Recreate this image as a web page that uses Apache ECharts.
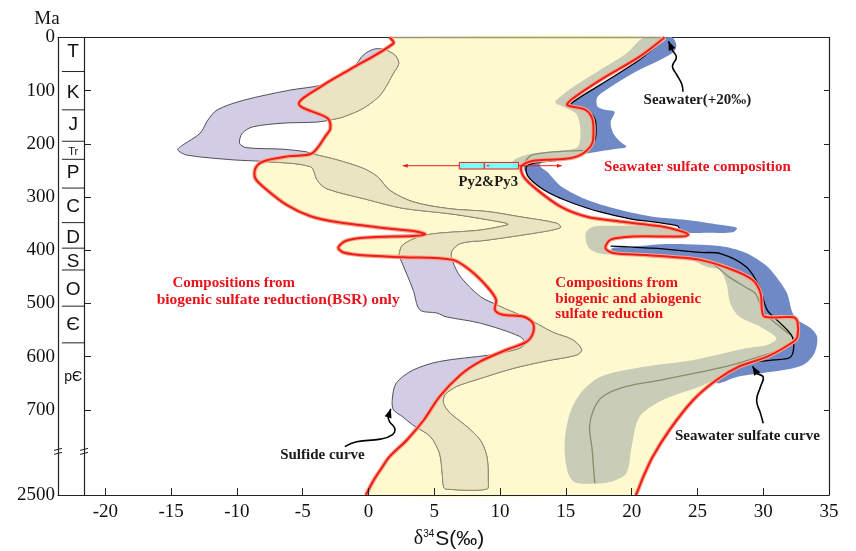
<!DOCTYPE html>
<html>
<head>
<meta charset="utf-8">
<script src="https://cdn.jsdelivr.net/npm/echarts@6/dist/echarts.min.js"></script>
<style>
  html, body { margin: 0; padding: 0; background: #fff; }
  #chart { width: 856px; height: 551px; }
</style>
</head>
<body>
<div id="chart"></div>
<script>
// δ34S (‰) against age (Ma). Below 700 Ma the age axis is broken:
// its last unit (860) stands for 2500 Ma.

// ---- axes ----
const xTickValues = [-20, -15, -10, -5, 0, 5, 10, 15, 20, 25, 30, 35];
const ageTickValues = [0, 100, 200, 300, 400, 500, 600, 700, 860];
const ageTickLabels = ['0', '100', '200', '300', '400', '500', '600', '700', '2500'];
const ageBreak = 778;

// ---- geological periods ----
const periods = ['T', 'K', 'J', 'Tr', 'P', 'C', 'D', 'S', 'O', 'Є', 'pЄ'];
const periodLabelAges = [27, 103, 164, 215, 255, 318, 377, 421, 475, 540, 638];
const periodBounds = [64, 136, 195, 229, 283, 348, 396, 437, 505, 574];

// ---- envelope of possible sulfide compositions (red outline) ----
const envelopeLeft = [[1.6,0],[1.9,11],[-1.4,60],[-3.4,89],[-5.3,125],[-3.1,152],[-2.9,171],[-3.2,183],[-4.3,218],[-6.0,223],[-8.0,233],[-8.6,246],[-8.6,265],[-7.7,287],[-6.2,315],[-4.4,336],[-2.4,347],[1.1,358],[3.7,365],[4.3,370],[3.4,373],[-0.1,376],[-1.7,382],[-2.3,395],[-1.9,404],[-0.1,410],[2.6,413],[6.4,418],[7.7,437],[9.0,468],[9.7,493],[9.6,512],[10.2,521],[11.8,525],[12.5,537],[12.5,556],[12.0,572],[10.5,587],[8.5,609],[7.0,634],[5.4,675],[4.2,719],[2.9,757],[1.6,788],[0.9,813],[0.4,832],[-0.2,860]];
const envelopeRight = [[22.5,0],[20.6,36],[17.6,80],[15.4,117],[15.1,127],[16.5,136],[17.0,152],[17.1,174],[17.0,199],[16.3,218],[15.3,227],[13.5,230],[12.3,233],[11.6,243],[11.8,262],[12.8,286],[14.6,318],[16.6,337],[19.1,346],[22.2,355],[23.9,365],[24.3,371],[23.7,374],[20.1,374],[18.4,380],[18.0,396],[18.6,405],[21.1,409],[25.2,418],[27.7,437],[29.2,456],[29.8,481],[29.9,512],[30.1,525],[32.3,526],[32.6,534],[32.6,562],[32.3,572],[30.3,600],[28.2,618],[26.5,643],[24.7,681],[22.9,737],[21.6,788],[20.9,825],[20.4,856],[20.3,860]];

// ---- sulfide curve band ----
const sulfideBand = [[0.4,22],[1.1,22],[2.0,33],[2.3,49],[1.9,67],[0.9,108],[-0.4,133],[-1.9,149],[-2.9,155],[-3.9,159],[-6.5,161],[-8.8,168],[-9.6,180],[-9.8,199],[-9.3,207],[-6.5,210],[-4.7,215],[-4.2,219],[-2.4,230],[-0.4,246],[0.7,262],[1.6,287],[3.4,309],[6.2,322],[9.0,327],[11.5,337],[14.3,349],[14.6,357],[13.3,365],[9.0,381],[7.0,387],[6.3,403],[6.4,421],[7.0,450],[8.5,487],[9.8,503],[10.4,510],[12.0,527],[14.0,554],[15.5,568],[16.2,587],[15.8,597],[13.5,608],[11.0,622],[8.5,641],[6.7,656],[5.8,672],[5.7,688],[6.2,706],[7.5,732],[8.5,757],[9.0,788],[9.1,832],[9.0,849],[5.9,849],[5.7,844],[5.6,819],[5.4,782],[4.7,750],[3.4,729],[2.6,713],[1.9,700],[1.8,682],[2.1,650],[3.4,625],[5.4,609],[9.2,597],[10.5,591],[11.5,584],[11.9,575],[11.5,562],[8.5,537],[5.9,525],[5.2,518],[3.9,512],[3.4,475],[2.4,415],[2.3,412],[2.6,390],[4.4,371],[8.5,362],[10.6,352],[10.5,349],[6.4,332],[2.6,321],[-0.2,304],[-3.2,284],[-3.9,268],[-4.4,243],[-8.0,233],[-10.3,230],[-13.8,221],[-14.5,211],[-14.1,202],[-12.8,180],[-12.2,155],[-11.5,136],[-9.5,118],[-6.0,99],[-3.5,89],[-2.2,72],[-1.0,52],[-0.4,33]];

// ---- seawater sulfate band (grey) ----
const seawaterBandUpper = [[21.0,0],[25.2,0],[19.1,99],[17.6,155],[18.0,211],[14.6,240],[12.3,253],[11.1,245],[10.9,236],[11.2,228],[12.3,219],[14.6,213],[15.9,206],[16.1,174],[15.8,144],[14.9,131],[14.2,123],[14.3,117],[15.6,92],[17.6,61],[19.6,30]];
const seawaterBandLower = [[16.7,394],[16.5,369],[17.0,356],[18.8,354],[25.2,354],[26.7,381],[30.5,437],[32.8,512],[33.9,569],[32.0,610],[28.6,625],[28.0,625],[25.2,656],[22.4,681],[20.6,713],[20.0,769],[19.6,819],[18.4,835],[16.8,839],[15.6,835],[15.1,813],[14.9,763],[15.3,707],[16.1,669],[17.6,638],[20.9,619],[24.7,606],[28.7,584],[30.3,578],[31.0,565],[29.8,544],[28.2,525],[27.5,500],[27.2,462],[26.7,437],[25.7,431],[24.2,415],[21.6,412],[19.1,409],[17.4,405]];
const seawaterMidUpper = [[16.3,212],[14.0,215],[12.4,221],[12.0,230],[11.8,238]];
const seawaterMidLower = [[25.2,414],[26.4,430],[27.4,450],[28.7,470],[29.4,481],[30.1,518],[31.3,544],[32.2,562],[32.3,570],[31.8,582],[29.7,600],[28.0,613],[26.0,625],[22.2,644],[19.6,656],[17.8,675],[17.1,700],[16.8,732],[17.0,775],[17.1,807],[17.2,838]];

// ---- seawater +20‰ band (blue) and its centre curve ----
const seawaterPlusUpper = [[22.6,0],[23.1,0],[23.4,14],[23.2,27],[22.2,42],[20.1,67],[18.4,93],[17.4,112],[17.4,129],[18.0,136],[18.7,140],[18.4,159],[18.6,180],[19.1,195],[19.6,206],[18.6,210],[17.3,215],[16.3,219],[14.6,225],[13.4,232],[13.0,240],[13.6,253],[14.6,279],[16.6,305],[19.1,324],[21.6,337],[24.2,343],[26.7,352],[28.0,358],[27.7,366],[25.7,367],[24.3,367],[23.6,360],[23.5,354],[21.8,347],[19.9,341],[17.6,328],[15.7,313],[14.2,298],[13.0,281],[12.1,260],[11.8,242],[12.3,232],[13.4,227],[15.3,219],[16.6,208],[17.2,193],[17.3,174],[17.2,153],[16.6,136],[15.6,130],[15.4,124],[17.6,89],[20.6,42],[22.5,1]];
const seawaterPlusLower = [[18.5,396],[20.6,392],[22.7,388],[26.7,392],[28.7,405],[30.2,428],[31.0,450],[31.8,480],[32.2,516],[32.6,531],[33.6,546],[34.1,563],[33.9,593],[33.0,616],[30.5,629],[28.0,638],[26.5,650],[26.3,635],[28.2,610],[30.1,591],[31.7,578],[31.9,550],[30.9,527],[29.6,512],[29.1,475],[28.2,446],[25.9,426],[22.2,415],[19.5,411],[18.5,403]];
const seawaterCurveUpper = [[22.5,1],[20.6,42],[17.6,89],[15.4,124],[15.6,130],[16.6,136],[17.2,153],[17.3,174],[17.2,193],[16.6,212],[15.6,225],[14.0,232],[12.6,236],[12.0,243],[12.1,260],[13.0,281],[14.2,298],[15.7,313],[17.6,328],[19.9,341],[21.8,347],[23.5,354],[23.6,358]];
const seawaterCurveLower = [[18.4,392],[21.6,396],[25.2,404],[26.7,406],[28.7,431],[29.7,468],[30.3,512],[31.3,537],[32.2,562],[32.3,587],[32.0,602],[30.8,606],[29.2,610]];

// ---- Py2 & Py3 pyrite range: min, q1, median, q3, max ----
const pyStats = [2.6, 6.9, 8.8, 11.4, 14.7];
const pyAge = 241;

// ---- palette ----
const YELLOW = '#FFF9CF', PURPLE = '#D2CCE5', TAN = '#EAE4C3', GREY = '#C9CDB7', BLUE = '#6F88C6';
const RED = '#EE1D1A', RED_HALO = '#F7A78C', OLIVE = '#8A8A6C', RED_TEXT = '#E8141C';
const SMOOTH = 0.3;

const X_MIN = -23.6, X_MAX = 35, AGE_MAX = 860;
const COLUMN_EDGE = -21.62;   // right-hand line of the period column

function px(api, arr) { return arr.map(p => api.coord(p)); }
function envelopeClosed() { return envelopeLeft.concat(envelopeRight.slice().reverse()); }

function layer(z, build) {
  return {
    type: 'custom', coordinateSystem: 'cartesian2d', xAxisIndex: 0, yAxisIndex: 0,
    data: [[0, 0]], z: z, silent: true, animation: false,
    renderItem: (params, api) => build(api)
  };
}

function arrowHead(tip, from, len, half) {
  const dx = tip[0] - from[0], dy = tip[1] - from[1];
  const d = Math.hypot(dx, dy) || 1, ux = dx / d, uy = dy / d;
  const bx = tip[0] - ux * len, by = tip[1] - uy * len;
  return [[tip[0], tip[1]], [bx - uy * half, by + ux * half], [bx + uy * half, by - ux * half]];
}

function curvedArrow(api, pts) {
  const p = px(api, pts);
  const tip = p[p.length - 1], prev = p[p.length - 2];
  return [
    { type: 'polyline', shape: { points: p, smooth: 0.45 }, style: { stroke: '#000', lineWidth: 1.6, fill: null } },
    { type: 'polygon', shape: { points: arrowHead(tip, prev, 9, 3.6) }, style: { fill: '#000' } }
  ];
}

function label(api, text, at, opts) {
  const c = api.coord(at);
  return {
    type: 'text', x: c[0], y: c[1],
    style: Object.assign({
      text: text, fill: '#1a1a1a', fontFamily: '"Liberation Serif", serif', fontWeight: 'bold',
      fontSize: 15, align: 'center', verticalAlign: 'middle'
    }, opts || {})
  };
}

const series = [
  // blue band sits underneath the yellow envelope
  layer(1, api => ({
    type: 'group', children: [seawaterPlusUpper, seawaterPlusLower].map(b => ({
      type: 'polygon', shape: { points: px(api, b), smooth: SMOOTH }, style: { fill: BLUE }
    }))
  })),
  // envelope fill
  layer(2, api => ({
    type: 'polygon', shape: { points: px(api, envelopeClosed()), smooth: SMOOTH }, style: { fill: YELLOW }
  })),
  // sulfide band, outside the envelope
  layer(3, api => ({
    type: 'polygon', shape: { points: px(api, sulfideBand), smooth: SMOOTH },
    style: { fill: PURPLE, stroke: '#3f3f46', lineWidth: 0.9 }
  })),
  // sulfide band, inside the envelope
  layer(4, api => ({
    type: 'group',
    clipPath: { type: 'polygon', shape: { points: px(api, envelopeClosed()), smooth: SMOOTH } },
    children: [{
      type: 'polygon', shape: { points: px(api, sulfideBand), smooth: SMOOTH },
      style: { fill: TAN, stroke: '#8E8A6E', lineWidth: 0.9 }
    }]
  })),
  // seawater sulfate band, inside the envelope
  layer(5, api => ({
    type: 'group',
    clipPath: { type: 'polygon', shape: { points: px(api, envelopeClosed()), smooth: SMOOTH } },
    children: [seawaterBandUpper, seawaterBandLower].map(b => ({
      type: 'polygon', shape: { points: px(api, b), smooth: SMOOTH }, style: { fill: GREY }
    }))
  })),
  // centre curves
  layer(6, api => ({
    type: 'group', children: [
      ...[seawaterMidUpper, seawaterMidLower].map(l => ({
        type: 'polyline', shape: { points: px(api, l), smooth: SMOOTH }, style: { stroke: OLIVE, lineWidth: 1.3, fill: null }
      })),
      ...[seawaterCurveUpper, seawaterCurveLower].map(l => ({
        type: 'polyline', shape: { points: px(api, l), smooth: SMOOTH }, style: { stroke: '#000', lineWidth: 1.3, fill: null }
      }))
    ]
  })),
  // envelope outline
  layer(7, api => ({
    type: 'group', children: [
      { type: 'polyline', shape: { points: px(api, [envelopeLeft[0], envelopeRight[0]]) }, style: { stroke: '#9a9878', lineWidth: 1.4, fill: null } },
      ...[envelopeLeft, envelopeRight].map(l => ({
        type: 'polyline', shape: { points: px(api, l), smooth: SMOOTH }, style: { stroke: RED_HALO, lineWidth: 4.2, fill: null, lineJoin: 'round' }
      })),
      ...[envelopeLeft, envelopeRight].map(l => ({
        type: 'polyline', shape: { points: px(api, l), smooth: SMOOTH }, style: { stroke: RED, lineWidth: 2, fill: null, lineJoin: 'round' }
      }))
    ]
  })),
  // Py2 & Py3 range box
  layer(8, api => {
    const [mn, q1, md, q3, mx] = pyStats.map(v => api.coord([v, pyAge]));
    const h = 3.3, y = mn[1];
    return {
      type: 'group', children: [
        { type: 'line', shape: { x1: mn[0], y1: y, x2: mx[0], y2: y }, style: { stroke: RED, lineWidth: 1 } },
        { type: 'polygon', shape: { points: arrowHead(mn, [mn[0] + 10, y], 5, 2) }, style: { fill: RED } },
        { type: 'polygon', shape: { points: arrowHead(mx, [mx[0] - 10, y], 5, 2) }, style: { fill: RED } },
        { type: 'rect', shape: { x: q1[0], y: y - h, width: md[0] - q1[0], height: 2 * h }, style: { fill: '#7DFCFC', stroke: RED, lineWidth: 1 } },
        { type: 'rect', shape: { x: md[0], y: y - h, width: q3[0] - md[0], height: 2 * h }, style: { fill: '#7DFCFC', stroke: RED, lineWidth: 1 } },
        { type: 'line', shape: { x1: md[0] + 2.5, y1: y, x2: md[0] + 5, y2: y }, style: { stroke: RED, lineWidth: 1 } }
      ]
    };
  }),
  // annotations
  layer(9, api => ({
    type: 'group', children: [
      ...curvedArrow(api, [[23.9,102],[23.8,87],[23.4,69],[23.1,54],[23.4,37],[23.1,24],[22.8,7]]),
      ...curvedArrow(api, [[-1.8,769],[-0.9,760],[0.9,755],[1.8,747],[2.0,735],[1.6,722],[1.5,713],[1.7,698]]),
      ...curvedArrow(api, [[30.0,725],[29.8,707],[29.5,682],[29.8,656],[30.0,638],[29.5,631],[29.2,618]]),
      label(api, 'Seawater(+20‰)', [25.0, 117]),
      label(api, 'Seawater sulfate composition', [25.0, 243], { fill: RED_TEXT }),
      label(api, 'Py2&Py3', [9.1, 272], { fontSize: 14.7 }),
      label(api, 'Compositions from', [-14.9, 461], { fill: RED_TEXT, align: 'left' }),
      label(api, 'biogenic sulfate reduction(BSR) only', [-16.1, 494], { fill: RED_TEXT, align: 'left', fontSize: 15.5 }),
      label(api, 'Compositions from', [14.2, 462], { fill: RED_TEXT, align: 'left' }),
      label(api, 'biogenic and abiogenic', [14.2, 492], { fill: RED_TEXT, align: 'left' }),
      label(api, 'sulfate reduction', [14.2, 520], { fill: RED_TEXT, align: 'left' }),
      label(api, 'Sulfide curve', [-3.5, 785]),
      label(api, 'Seawater sulfate curve', [28.8, 749])
    ]
  })),
  // period column and axis break
  layer(9, api => {
    const children = [];
    periodBounds.forEach(a => {
      const p1 = api.coord([-23.3, a]), p2 = api.coord([COLUMN_EDGE, a]);
      children.push({ type: 'line', shape: { x1: p1[0], y1: p1[1], x2: p2[0], y2: p2[1] }, style: { stroke: '#222', lineWidth: 1 } });
    });
    periods.forEach((name, i) => {
      const size = name === 'Tr' ? 11 : (name === 'pЄ' ? 14 : 19);
      children.push(label(api, name, [-22.45, periodLabelAges[i]], {
        fontFamily: '"Liberation Sans", Arial, sans-serif', fontWeight: 'normal', fontSize: size, fill: '#111'
      }));
    });
    [X_MIN, COLUMN_EDGE].forEach(xv => {
      const c = api.coord([xv, ageBreak]);
      children.push({ type: 'rect', shape: { x: c[0] - 4, y: c[1] - 2, width: 8, height: 4 }, style: { fill: '#fff' } });
      children.push({ type: 'line', shape: { x1: c[0] - 4, y1: c[1] - 1, x2: c[0] + 4, y2: c[1] - 3 }, style: { stroke: '#222', lineWidth: 1 } });
      children.push({ type: 'line', shape: { x1: c[0] - 4, y1: c[1] + 3, x2: c[0] + 4, y2: c[1] + 1 }, style: { stroke: '#222', lineWidth: 1 } });
    });
    return { type: 'group', children };
  })
];

const serifLabel = { fontFamily: '"Liberation Serif", serif', fontSize: 19, color: '#111' };
const axisLineStyle = { color: '#222', width: 1.2 };

const option = {
  backgroundColor: '#fff',
  animation: false,
  grid: { left: 58, right: 27, top: 37.5, bottom: 56, containLabel: false, outerBoundsMode: 'none' },
  xAxis: [
    {
      type: 'value', min: X_MIN, max: X_MAX, position: 'bottom', z: 10,
      axisLine: { show: true, onZero: false, lineStyle: axisLineStyle },
      axisTick: { show: true, inside: true, length: 7, customValues: xTickValues, lineStyle: { color: '#222' } },
      axisLabel: Object.assign({ customValues: xTickValues, margin: 8 }, serifLabel),
      splitLine: { show: false }
    },
    {
      type: 'value', min: X_MIN, max: X_MAX, position: 'top', z: 0,
      axisLine: { show: true, onZero: false, lineStyle: axisLineStyle },
      axisTick: { show: false }, axisLabel: { show: false }, splitLine: { show: false }
    }
  ],
  yAxis: [
    {
      type: 'value', min: 0, max: AGE_MAX, inverse: true, position: 'left', z: 10,
      axisLine: { show: true, onZero: false, lineStyle: axisLineStyle },
      axisTick: { show: false },
      axisLabel: Object.assign({
        customValues: ageTickValues, margin: 3,
        formatter: v => ageTickLabels[ageTickValues.indexOf(v)] || ''
      }, serifLabel),
      splitLine: { show: false }
    },
    {
      type: 'value', min: 0, max: AGE_MAX, inverse: true, position: 'left', offset: -26, z: 10,
      axisLine: { show: true, onZero: false, lineStyle: axisLineStyle },
      axisTick: { show: true, inside: true, length: 7, customValues: ageTickValues.slice(1, 8), lineStyle: { color: '#222' } },
      axisLabel: { show: false }, splitLine: { show: false }
    },
    {
      type: 'value', min: 0, max: AGE_MAX, inverse: true, position: 'right', z: 10,
      axisLine: { show: true, onZero: false, lineStyle: axisLineStyle },
      axisTick: { show: true, inside: true, length: 5, customValues: ageTickValues.slice(1, 8), lineStyle: { color: '#222' } },
      axisLabel: { show: false }, splitLine: { show: false }
    }
  ],
  graphic: [
    { type: 'text', x: 47, y: 19, style: { text: 'Ma', fontFamily: '"Liberation Serif", serif', fontSize: 19, fill: '#111', align: 'center', verticalAlign: 'middle' } },
    {
      type: 'text', x: 449, y: 539,
      style: {
        text: '{d|δ}{s|34}{t|S(‰)}', align: 'center', verticalAlign: 'middle', fill: '#111',
        rich: {
          d: { fontFamily: '"Liberation Serif", serif', fontSize: 20, fill: '#111' },
          s: { fontFamily: '"Liberation Sans", sans-serif', fontSize: 10, fill: '#111', padding: [0, 1, 9, 0] },
          t: { fontFamily: '"Liberation Sans", sans-serif', fontSize: 21, fill: '#111' }
        }
      }
    }
  ],
  series: series
};

const chart = echarts.init(document.getElementById('chart'), null, { renderer: 'canvas' });
chart.setOption(option);
</script>
</body>
</html>
